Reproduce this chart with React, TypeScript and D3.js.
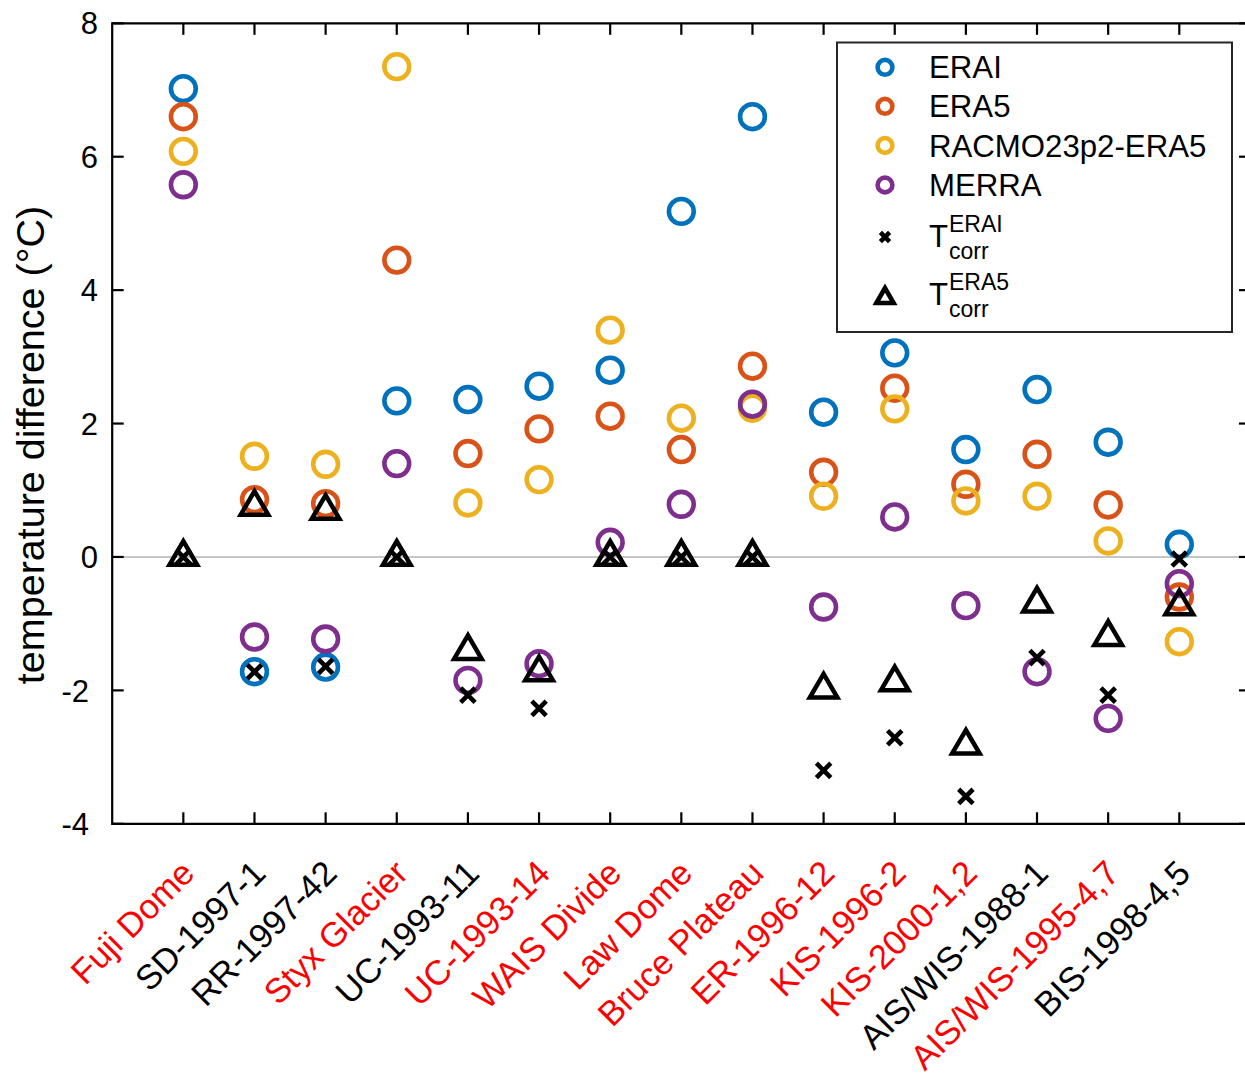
import React from "react";
import * as d3 from "d3";

const sites = ["Fuji Dome","SD-1997-1","RR-1997-42","Styx Glacier","UC-1993-11","UC-1993-14","WAIS Divide","Law Dome","Bruce Plateau","ER-1996-12","KIS-1996-2","KIS-2000-1,2","AIS/WIS-1988-1","AIS/WIS-1995-4,7","BIS-1998-4,5"];
const siteRed = [true,false,false,true,false,true,true,true,true,true,true,true,false,true,false];
const erai = [7.02,-1.72,-1.65,2.34,2.36,2.56,2.80,5.18,6.60,2.17,3.06,1.61,2.51,1.72,0.19];
const era5 = [6.60,0.86,0.80,4.45,1.55,1.92,2.11,1.61,2.86,1.27,2.53,1.09,1.54,0.78,-0.60];
const racmo = [6.08,1.51,1.39,7.35,0.81,1.16,3.40,2.08,2.23,0.91,2.22,0.84,0.91,0.24,-1.27];
const merra = [5.58,-1.20,-1.23,1.40,-1.85,-1.60,0.22,0.79,2.29,-0.75,0.60,-0.73,-1.72,-2.42,-0.40];
const tcorrErai = [0,-1.72,-1.64,0,-2.07,-2.27,0,0,0,-3.20,-2.71,-3.59,-1.51,-2.07,-0.03];
const tcorrEra5 = [0,0.75,0.69,0,-1.41,-1.73,0,0,0,-1.99,-1.88,-2.83,-0.70,-1.20,-0.74];
const yTicks = [-4,-2,0,2,4,6,8];

const circleSeries = [
  { name: "ERAI", values: erai, color: "#0072BD" },
  { name: "ERA5", values: era5, color: "#D95319" },
  { name: "RACMO23p2-ERA5", values: racmo, color: "#EDB120" },
  { name: "MERRA", values: merra, color: "#7E2F8E" },
];

const FONT = "'Liberation Sans', Arial, Helvetica, sans-serif";

function tri(w: number, h: number) {
  return `M0,${-2 * h / 3}L${-w},${h / 3}L${w},${h / 3}Z`;
}
function cross(s: number) {
  return `M${-s},${-s}L${s},${s}M${-s},${s}L${s},${-s}`;
}

export default function App() {
  const W = 1245, H = 1083;
  const left = 112.2, top = 23.3, bottom = 823.8;
  const x = d3.scaleLinear().domain([0, 16]).range([left, left + 16 * 71.14]);
  const y = d3.scaleLinear().domain([-4, 8]).range([bottom, top]);
  const right = x(16);
  const idx = d3.range(sites.length);

  return (
    <svg width={W} height={H} style={{ position: "absolute", left: 0, top: 0, background: "#fff" }} fontFamily={FONT}>
      <rect x={0} y={0} width={W} height={H} fill="#fff" />
      {/* zero line */}
      <line x1={left} x2={right} y1={y(0)} y2={y(0)} stroke="#b3b3b3" strokeWidth={1.6} />
      {/* axes box */}
      <path d={`M${left},${top}H${right}V${bottom}H${left}Z`} fill="none" stroke="#000" strokeWidth={2.2} />
      {/* y ticks */}
      {yTicks.map(t => (
        <g key={t}>
          <line x1={left} x2={left + 11.5} y1={y(t)} y2={y(t)} stroke="#000" strokeWidth={2.2} />
          <line x1={right} x2={right - 11.5} y1={y(t)} y2={y(t)} stroke="#000" strokeWidth={2.2} />
          <text x={t < 0 ? 89 : 98} y={y(t)} dy="0.36em" textAnchor="end" fontSize={31}>{t}</text>
        </g>
      ))}
      {/* x ticks */}
      {idx.map(i => (
        <g key={i}>
          <line x1={x(i + 1)} x2={x(i + 1)} y1={bottom} y2={bottom - 11.5} stroke="#000" strokeWidth={2.2} />
          <line x1={x(i + 1)} x2={x(i + 1)} y1={top} y2={top + 11.5} stroke="#000" strokeWidth={2.2} />
          <text transform={`translate(${x(i + 1) - 4},${858}) rotate(-45)`} textAnchor="end" dy="0.7em"
            fontSize={34.5} fill={siteRed[i] ? "#ff0000" : "#000"}>{sites[i]}</text>
        </g>
      ))}
      {/* y label */}
      <text transform={`translate(44,${(205 + 685) / 2}) rotate(-90)`} textAnchor="middle" fontSize={39.5}>temperature difference (°C)</text>
      {/* circles */}
      {circleSeries.map(s => (
        <g key={s.name}>
          {idx.map(i => (
            <circle key={i} cx={x(i + 1)} cy={y(s.values[i])} r={12.4} fill="none" stroke={s.color} strokeWidth={4.6} />
          ))}
        </g>
      ))}
      {/* crosses */}
      {idx.map(i => (
        <path key={"x" + i} d={cross(7.2)} transform={`translate(${x(i + 1)},${y(tcorrErai[i])})`} fill="none" stroke="#000" strokeWidth={4.6} />
      ))}
      {/* triangles */}
      {idx.map(i => (
        <path key={"t" + i} d={tri(13.8, 23.6)} transform={`translate(${x(i + 1)},${y(tcorrEra5[i])})`} fill="none" stroke="#000" strokeWidth={4.5} strokeLinejoin="miter" />
      ))}
      {/* legend */}
      <g>
        <rect x={837} y={42.5} width={395} height={289.5} fill="#fff" stroke="#262626" strokeWidth={2} />
        {circleSeries.map((s, k) => {
          const cy = [67.3, 106.3, 145.5, 185][k];
          return (
            <g key={s.name}>
              <circle cx={885} cy={cy} r={7.4} fill="none" stroke={s.color} strokeWidth={4.6} />
              <text x={929} y={cy + 11} fontSize={31.2}>{s.name}</text>
            </g>
          );
        })}
        <path d={cross(4.6)} transform="translate(885,237)" fill="none" stroke="#000" strokeWidth={4.6} />
        <text x={929} y={247} fontSize={31.2}>T</text>
        <text x={949} y={232} fontSize={23}>ERAI</text>
        <text x={949} y={259} fontSize={23}>corr</text>
        <path d={tri(8.6, 15)} transform="translate(885,298)" fill="none" stroke="#000" strokeWidth={4.6} />
        <text x={929} y={305} fontSize={31.2}>T</text>
        <text x={949} y={290} fontSize={23}>ERA5</text>
        <text x={949} y={317} fontSize={23}>corr</text>
      </g>
    </svg>
  );
}
